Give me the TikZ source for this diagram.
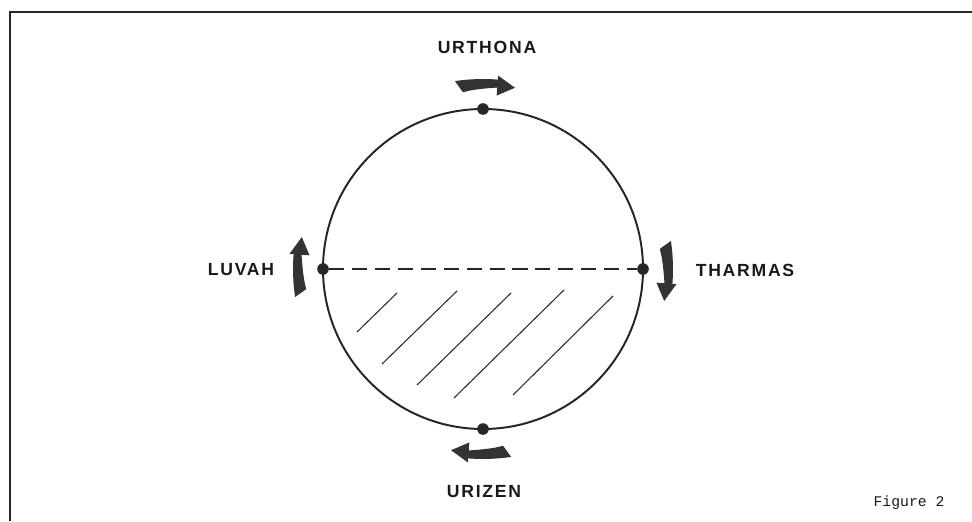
\documentclass[tikz,border=0pt]{standalone}
\usepackage{fontspec}
\newfontfamily\zoafont[LetterSpace=10]{Liberation Sans}
\newfontfamily\figfont{Liberation Mono}
\usetikzlibrary{positioning}

\tikzset{
  zoa/.style={font=\zoafont\bfseries\fontsize{12.5}{14}\selectfont,text=black!90,inner sep=0pt},
  dot/.style={circle,fill=black!85,inner sep=0pt,minimum size=0.29cm},
  ring/.style={draw=black!85,line width=1.4pt},
  divide/.style={draw=black!85,line width=2.1pt,dash pattern=on 10.7pt off 5.6pt},
  hatch/.style={draw=black!80,line width=0.8pt},
  turn/.style={fill=black!80}
}

\begin{document}
\begin{tikzpicture}[x=0.025cm,y=0.025cm]
    \useasboundingbox (0,0) rectangle (972,521);
    % frame
    \draw[black!85,line width=1.7pt] (10,0) -- (10,509) -- (972,509);

    \coordinate (O) at (483,252);
    \draw[ring] (O) circle[radius=160];

    \node[dot] (top) at (483,412) {};
    \node[dot] (bot) at (483,92) {};
    \node[dot] (lft) at (323,252) {};
    \node[dot] (rgt) at (643,252) {};
    \draw[divide] (lft) -- (rgt);

    % lower half hatching
    \foreach \xa/\ya/\xb/\yb in {357/189/397/228, 382/157/457/230, 417/136/511/228,
                                 454/123/564/231, 513/126/613/225}
      \draw[hatch] (\xa,\ya) -- (\xb,\yb);

    % clockwise turning arrows
    \foreach \a in {90,0,-90,180}{
      \begin{scope}[shift={(O)},rotate=\a]
        \fill[turn] (8.5:190) arc[start angle=8.5,end angle=-4.5,radius=190]
          -- (-4.5:194) -- (-10:184) -- (-4.5:174) -- (-4.5:182)
          -- (-2:181) -- (1:180) -- (4:179) -- (6.5:178) -- cycle;
      \end{scope}
    }

    \node[zoa] (urthona) at (487,474) {URTHONA};
    \node[zoa] (luvah) at (241,251) {LUVAH};
    \node[zoa] (tharmas) at (745,251) {THARMAS};
    \node[zoa] (urizen) at (484,29) {URIZEN};
    \node[font=\figfont\fontsize{10.5}{12}\selectfont,text=black!90,inner sep=0pt]
      (fig) at (909,18) {Figure 2};
\end{tikzpicture}
\end{document}
